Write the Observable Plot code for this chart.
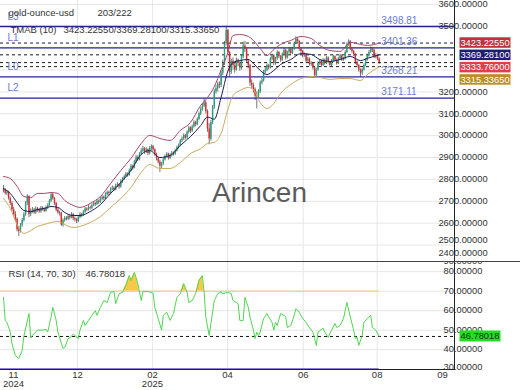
<!DOCTYPE html>
<html><head><meta charset="utf-8">
<script src="https://cdn.jsdelivr.net/npm/d3@7"></script>
<script src="https://cdn.jsdelivr.net/npm/@observablehq/plot@0.6"></script>
<style>
body{margin:0;background:#fff;}
#chart{position:relative;width:520px;height:390px;overflow:hidden;background:#fff;}
#chart svg{position:absolute;left:0;overflow:hidden !important;}
</style></head><body><div id="chart"></div>
<script>
// ---------------- data ----------------
const seriesName = "gold-ounce-usd";
const counterText = "203/222";
const tmabTitle = "TMAB (10)";
const rsiTitle = "RSI (14, 70, 30)";
const watermark = "Arincen";

const opens = [
2755,2748,2736,2742,2712,2690,2660,2640,2618,2570,
2562,2590,2612,2640,2690,2722,2640,2655,2660,2648,
2665,2660,2652,2668,2662,2655,2670,2680,2700,2730,
2712,2690,2660,2648,2645,2592,2612,2622,2618,2630,
2625,2640,2620,2615,2608,2625,2640,2635,2650,2665,
2660,2672,2668,2680,2690,2685,2700,2695,2710,2718,
2712,2730,2740,2735,2755,2760,2752,2770,2775,2765,
2790,2800,2812,2825,2818,2840,2860,2852,2880,2900,
2890,2915,2930,2940,2925,2935,2918,2940,2950,2935,
2915,2895,2880,2860,2870,2890,2905,2915,2895,2910,
2920,2915,2930,2945,2955,2975,2985,3000,2990,3015,
3035,3020,3040,3060,3050,3075,3100,3120,3135,3150,
3110,3030,2985,3060,3130,3200,3215,3235,3230,3285,
3330,3420,3480,3380,3290,3340,3320,3300,3345,3330,
3310,3360,3410,3395,3340,3320,3240,3230,3210,3180,
3180,3200,3240,3250,3290,3300,3320,3310,3350,3365,
3330,3350,3380,3360,3345,3370,3390,3355,3380,3395,
3375,3395,3420,3440,3430,3395,3385,3365,3370,3340,
3350,3325,3330,3310,3275,3300,3330,3340,3320,3345,
3330,3355,3335,3320,3340,3360,3345,3330,3350,3365,
3345,3350,3380,3415,3430,3395,3385,3370,3335,3320,
3300,3285,3300,3320,3345,3365,3380,3395,3390,3360,
3365,3350];
const highs = [
2772,2758,2750,2746,2720,2698,2672,2652,2624,2585,
2598,2622,2648,2698,2730,2726,2665,2672,2668,2675,
2672,2668,2676,2675,2670,2678,2688,2708,2738,2735,
2718,2695,2668,2655,2650,2620,2630,2630,2638,2636,
2648,2645,2628,2622,2632,2648,2646,2658,2672,2670,
2680,2678,2688,2698,2695,2708,2706,2718,2726,2724,
2738,2748,2746,2762,2770,2766,2778,2785,2780,2798,
2808,2820,2832,2830,2848,2868,2866,2888,2910,2908,
2922,2940,2952,2946,2945,2940,2950,2958,2955,2940,
2920,2902,2888,2878,2898,2912,2922,2920,2918,2928,
2926,2938,2952,2962,2982,2994,3008,3006,3022,3042,
3040,3048,3068,3066,3082,3108,3128,3145,3168,3160,
3118,3055,3070,3138,3210,3230,3245,3245,3295,3345,
3430,3500,3485,3385,3350,3355,3330,3355,3350,3338,
3368,3428,3430,3400,3348,3325,3255,3240,3218,3200,
3210,3250,3262,3298,3310,3328,3325,3358,3372,3370,
3358,3388,3385,3366,3378,3398,3395,3386,3402,3400,
3402,3428,3452,3448,3435,3400,3390,3378,3375,3358,
3355,3338,3335,3315,3308,3338,3348,3345,3352,3350,
3362,3360,3340,3348,3368,3365,3350,3358,3372,3370,
3358,3388,3425,3438,3435,3400,3390,3375,3340,3325,
3305,3308,3328,3352,3372,3390,3405,3402,3395,3375,
3370,3356];
const lows = [
2738,2728,2725,2705,2680,2652,2630,2605,2560,2538,
2555,2582,2605,2632,2680,2625,2630,2645,2640,2640,
2650,2645,2645,2655,2648,2650,2662,2675,2695,2705,
2680,2652,2640,2632,2585,2582,2605,2610,2612,2615,
2620,2612,2605,2598,2602,2620,2626,2630,2645,2652,
2655,2660,2662,2675,2676,2680,2686,2690,2702,2704,
2708,2724,2726,2730,2748,2744,2748,2762,2755,2760,
2782,2795,2806,2810,2814,2834,2842,2848,2874,2882,
2885,2908,2922,2915,2918,2908,2912,2932,2926,2905,
2885,2870,2832,2850,2864,2884,2898,2888,2890,2902,
2906,2910,2925,2938,2950,2968,2978,2980,2985,3008,
3010,3015,3034,3040,3045,3068,3092,3112,3128,3100,
3015,2958,2975,3050,3120,3190,3200,3215,3220,3275,
3320,3410,3370,3265,3280,3300,3285,3295,3315,3295,
3300,3352,3380,3330,3305,3225,3215,3195,3160,3122,
3170,3192,3232,3245,3282,3292,3300,3305,3342,3320,
3322,3345,3352,3335,3340,3365,3345,3350,3372,3368,
3370,3390,3415,3418,3385,3375,3355,3358,3332,3335,
3318,3316,3300,3265,3268,3295,3322,3312,3315,3322,
3325,3328,3310,3315,3335,3338,3322,3325,3345,3338,
3340,3345,3375,3408,3388,3375,3360,3325,3310,3290,
3268,3275,3295,3315,3340,3358,3375,3380,3352,3352,
3342,3325];
const closes = [
2748,2736,2742,2712,2690,2660,2640,2618,2570,2562,
2590,2612,2640,2690,2722,2640,2655,2660,2648,2665,
2660,2652,2668,2662,2655,2670,2680,2700,2730,2712,
2690,2660,2648,2645,2592,2612,2622,2618,2630,2625,
2640,2620,2615,2608,2625,2640,2635,2650,2665,2660,
2672,2668,2680,2690,2685,2700,2695,2710,2718,2712,
2730,2740,2735,2755,2760,2752,2770,2775,2765,2790,
2800,2812,2825,2818,2840,2860,2852,2880,2900,2890,
2915,2930,2940,2925,2935,2918,2940,2950,2935,2915,
2895,2880,2860,2870,2890,2905,2915,2895,2910,2920,
2915,2930,2945,2955,2975,2985,3000,2990,3015,3035,
3020,3040,3060,3050,3075,3100,3120,3135,3150,3110,
3030,2985,3060,3130,3200,3215,3235,3230,3285,3330,
3420,3480,3380,3290,3340,3320,3300,3345,3330,3310,
3360,3410,3395,3340,3320,3240,3230,3210,3180,3180,
3200,3240,3250,3290,3300,3320,3310,3350,3365,3330,
3350,3380,3360,3345,3370,3390,3355,3380,3395,3375,
3395,3420,3440,3430,3395,3385,3365,3370,3340,3350,
3325,3330,3310,3275,3300,3330,3340,3320,3345,3330,
3355,3335,3320,3340,3360,3345,3330,3350,3365,3345,
3350,3380,3415,3430,3395,3385,3370,3335,3320,3300,
3285,3300,3320,3345,3365,3380,3395,3390,3360,3365,
3350,3333.76];

// TMA bands (read at sampled bars)
const bandBar = [0,4,8,12,16,20,24,28,32,36,
  41,45,51,57,63,69,75,81,86,92,
  98,104,110,116,120,124,128,132,135,139,
  144,147,151,155,159,163,169,175,181,186,
  192,198,204,210,214,221];
const tmabUpper = [2813,2804,2768,2722,2717,2736,2736,2740,2736,2704,
  2681,2672,2690,2722,2781,2841,2896,2964,3001,2987,
  2978,3024,3060,3138,3174,3224,3300,3380,3458,3462,
  3453,3435,3398,3366,3394,3417,3435,3453,3444,3412,
  3389,3385,3426,3417,3412,3423.2255];
const tmabMiddle = [2758,2736,2694,2658,2653,2662,2667,2676,2672,2649,
  2635,2635,2653,2685,2736,2786,2841,2914,2932,2900,
  2909,2955,2996,3046,3085,3075,3175,3295,3334,3343,
  3348,3330,3298,3279,3298,3325,3348,3375,3371,3348,
  3339,3348,3362,3343,3353,3369.281];
const tmabLower = [2713,2667,2594,2553,2566,2585,2594,2603,2608,2594,
  2580,2585,2603,2630,2672,2713,2763,2832,2868,2850,
  2850,2877,2918,2941,2964,2969,3010,3120,3183,3206,
  3220,3211,3151,3124,3147,3193,3234,3261,3270,3266,
  3257,3261,3261,3252,3279,3315.3365];

const levelNames = ["L3", "L1", "L0", "L2"];
const levelValues = [3498.81, 3401.36, 3268.21, 3171.11];

// RSI (read at sampled bars)
const rsiBar = [0,1,2,4,5,7,9,11,12,15,
  16,17,20,23,25,26,28,29,31,32,
  35,36,38,39,41,44,45,47,48,50,
  52,54,55,57,59,61,63,65,66,68,
  70,72,74,75,77,78,79,81,82,85,
  86,88,89,91,93,94,96,98,100,102,
  104,106,108,109,111,113,115,117,118,119,
  121,122,124,126,128,129,132,134,135,138,
  139,141,142,144,145,147,148,149,150,151,
  153,155,156,158,159,160,161,163,165,166,
  167,169,171,172,174,176,178,179,182,183,
  184,185,188,189,191,193,195,196,198,200,
  201,202,204,206,207,208,209,211,212,214,
  216,217,219,221];
const rsiValue = [66.8,55,54,49,43,37,35.5,39.6,47,58.5,
  46,47.3,50,50,50.5,49,56.8,61.7,55,49,
  40.6,41,45.7,46,48,45.7,50,55,52.4,55,
  57.6,60,57.6,61.7,65.2,64.2,69.4,69.8,63.6,68.7,
  69.4,73,78,75.5,79.6,77,73.9,65.2,69.8,69.8,
  69.5,69,61.7,56,50,57.6,59.2,55,58.5,66.8,
  68.7,73.9,69.4,64.2,65.2,68.7,75.5,78,69.4,56.8,
  47.3,53.4,65.2,68.7,69.6,68.7,69.4,68.7,65.2,63.6,
  55,55,66.8,61.7,56.8,50,45.7,49,47.3,49,
  56,58.5,56.8,54,50,54,52.4,58.5,57.6,56.8,
  51.4,52.4,57.6,61,59.2,56,54,52.4,49,45.7,
  42.2,49,51,49,46.3,50,53.4,51.4,52.4,56,
  60,64.2,56.8,50,45.7,46.3,42.2,47.3,54,56,
  57.6,51.4,50,46.78018];
const rsiOverbought = 70;
const rsiOversold = 30;

const priceTicks = [3600,3500,3400,3300,3200,3100,3000,2900,2800,2700,2600,2500,2400];
const rsiTicks = [90,80,70,60,50,40,30];
const monthTickBar = [5.9, 43.5, 87.6, 131.8, 176.3, 219.8, 258.2];
const monthTickLabel = ["11\n2024", "12", "02\n2025", "04", "06", "08", "09"];
const monthGridBar = [43.5, 87.6, 131.8, 176.3, 219.8];

// ---------------- chart ----------------
const FONT = '"Liberation Sans", Arial, sans-serif';
const fmt5 = d3.format(".5f");
const lastBar = closes.length - 1;
const xDomain = [-1.765, 265.3];
const up = "#1fa57e", down = "#e5262e";
const levelBlue = "#25258c", levelText = "#6b7bd0";

const bars = closes.map((c, i) => ({i, o: opens[i], h: highs[i], l: lows[i], c}));
const bands = bandBar.map((b, k) => ({b, u: tmabUpper[k], m: tmabMiddle[k], lo: tmabLower[k]}));
const levels = levelNames.map((n, k) => ({n, v: levelValues[k]}));
const lastUpper = tmabUpper.at(-1), lastMid = tmabMiddle.at(-1), lastLower = tmabLower.at(-1), lastClose = closes.at(-1);
const tmabText = [lastUpper, lastMid, lastLower].map(fmt5).join("/");

const baseStyle = {fontFamily: FONT, fontSize: "9.5px", color: "#333", background: "transparent"};

const pricePlot = Plot.plot({
  width: 520, height: 261, marginTop: 0, marginRight: 66, marginBottom: 0, marginLeft: 0,
  style: baseStyle,
  x: {domain: xDomain, axis: null},
  y: {domain: [2424.8, 3617.6], axis: null},
  marks: [
    Plot.ruleY(priceTicks.filter(t => t > 2424.8), {stroke: "#e6e6e6"}),
    Plot.ruleX(monthGridBar, {stroke: "#e6e6e6"}),
    Plot.text([watermark], {frameAnchor: "top-left", dx: 259, dy: 193, textAnchor: "middle", lineAnchor: "middle", fontSize: 28, fill: "#5c5c5c"}),
    Plot.ruleY(levels, {y: "v", stroke: levelBlue, strokeWidth: 1.3}),
    Plot.ruleY([lastUpper, lastMid, lastClose, lastLower], {stroke: "#1a1a1a", strokeDasharray: "3,3"}),
    Plot.ruleX(bars, {x: "i", y1: "l", y2: "h", stroke: "#3a3a3a", strokeWidth: 0.7}),
    Plot.ruleX(bars, {x: "i", y1: "o", y2: "c", stroke: d => d.c >= d.o ? up : down, strokeWidth: 1.4}),
    Plot.line(bands, {x: "b", y: "u", stroke: "#a4456a", strokeWidth: 1, curve: "monotone-x"}),
    Plot.line(bands, {x: "b", y: "m", stroke: "#1c1c55", strokeWidth: 1, curve: "monotone-x"}),
    Plot.line(bands, {x: "b", y: "lo", stroke: "#c9a95c", strokeWidth: 1, curve: "monotone-x"}),
    Plot.text(levels, {y: "v", text: "n", frameAnchor: "left", dx: 7, dy: -10, textAnchor: "start", fill: levelText, fontSize: 10}),
    Plot.text(levels, {y: "v", x: () => lastBar, text: d => d.v.toFixed(2), dx: 2, dy: -6, textAnchor: "start", fill: levelText, fontSize: 10}),
    Plot.text([seriesName], {frameAnchor: "top-left", dx: 8, dy: 12.5, textAnchor: "start", lineAnchor: "middle", fill: "#333"}),
    Plot.text([counterText], {frameAnchor: "top-left", dx: 97, dy: 12.5, textAnchor: "start", lineAnchor: "middle", fill: "#333"}),
    Plot.text([tmabTitle], {frameAnchor: "top-left", dx: 10, dy: 29.5, textAnchor: "start", lineAnchor: "middle", fill: "#333"}),
    Plot.text([tmabText], {frameAnchor: "top-left", dx: 63, dy: 29.5, textAnchor: "start", lineAnchor: "middle", fill: "#333"}),
    Plot.frame({anchor: "right", stroke: "#222"})
  ]
});

// RSI fill points (add crossing points of the 70 line)
const rsiPts = rsiBar.map((b, k) => ({b, v: rsiValue[k]}));
const fillPts = [];
rsiPts.forEach((p, k) => {
  if (k > 0) {
    const q = rsiPts[k - 1];
    if ((q.v - rsiOverbought) * (p.v - rsiOverbought) < 0) {
      const t = (rsiOverbought - q.v) / (p.v - q.v);
      fillPts.push({b: q.b + t * (p.b - q.b), v: rsiOverbought});
    }
  }
  fillPts.push({b: p.b, v: Math.max(p.v, rsiOverbought)});
});
const rsiLast = rsiValue.at(-1);
const labelMap = new Map(monthTickBar.map((b, k) => [b, monthTickLabel[k]]));

const rsiPlot = Plot.plot({
  width: 520, height: 129, marginTop: 0, marginRight: 66, marginBottom: 21, marginLeft: 0,
  style: baseStyle,
  x: {domain: xDomain, axis: null, label: null},
  y: {domain: [29.85, 85.2], axis: null},
  marks: [
    Plot.ruleY(rsiTicks.filter(t => t > 30 && t < 85), {stroke: "#e6e6e6"}),
    Plot.ruleX(monthGridBar, {stroke: "#e6e6e6"}),
    Plot.areaY(fillPts, {x: "b", y1: () => rsiOverbought, y2: "v", fill: "#f7c948"}),
    Plot.ruleY([rsiOverbought], {x1: () => xDomain[0], x2: () => lastBar, stroke: "#f2d48c", strokeWidth: 1.5}),
    Plot.ruleY([rsiOversold], {x1: () => xDomain[0], x2: () => lastBar, stroke: "#6a55c8", strokeWidth: 1.8}),
    Plot.ruleY([rsiLast], {stroke: "#111", strokeDasharray: "3,3"}),
    Plot.line(rsiPts, {x: "b", y: "v", stroke: "#4fd64f", strokeWidth: 1}),
    Plot.axisX(monthTickBar, {anchor: "bottom", label: null, tickSize: 0, tickPadding: 1.5, tickFormat: d => labelMap.get(d), fontSize: 9.5, lineHeight: 1, fill: "#333"}),
    Plot.text([rsiTitle], {frameAnchor: "top-left", dx: 8, dy: 12, textAnchor: "start", lineAnchor: "middle", fill: "#333"}),
    Plot.text([rsiLast], {text: d => fmt5(d), frameAnchor: "top-left", dx: 85, dy: 12, textAnchor: "start", lineAnchor: "middle", fill: "#333"}),
    Plot.frame({anchor: "right", stroke: "#222"}),
    Plot.frame({anchor: "bottom", stroke: "#222"})
  ]
});

function valueBoxes(svg, yScale, items, x, w, h, gap) {
  const g = d3.select(svg).append("g").attr("font-family", FONT).attr("font-size", 9.3);
  let prev = -Infinity;
  const spans = [];
  items.slice().sort((a, b) => b.v - a.v).forEach(d => {
    const y = Math.max(yScale.apply(d.v), prev + h + gap);
    prev = y;
    spans.push([y - h / 2, y + h / 2]);
    g.append("rect").attr("x", x).attr("y", y - h / 2).attr("width", w).attr("height", h).attr("fill", d.bg);
    g.append("text").attr("x", x + w / 2).attr("y", y).attr("dy", "0.35em").attr("text-anchor", "middle").attr("fill", d.fg).text(fmt5(d.v));
  });
  return spans;
}
function rightLabels(svg, yScale, ticks, minY, maxY, hidden) {
  const g = d3.select(svg).insert("g", "g:last-of-type").attr("font-family", FONT).attr("font-size", 9.3).attr("fill", "#333");
  let prev = Infinity;
  ticks.slice().sort((a, b) => a - b).forEach(v => {
    let y = Math.min(yScale.apply(v), maxY, prev - 13);
    y = Math.max(y, minY);
    prev = y;
    // labels fully covered by the value boxes are not shown (as in the reference)
    if (hidden.some(([a, b]) => y > a - 1 && y < b + 1)) return;
    g.append("text").attr("x", 463).attr("y", y).attr("dy", "0.35em").text(fmt5(v));
  });
}

const priceSpans = valueBoxes(pricePlot, pricePlot.scale("y"), [
  {v: lastUpper, bg: "#bb343c", fg: "#fff"},
  {v: lastMid, bg: "#1e1e6e", fg: "#fff"},
  {v: lastClose, bg: "#e43c4a", fg: "#fff"},
  {v: lastLower, bg: "#b88f2a", fg: "#fff"}
], 459.5, 51, 10.5, 1.8);
rightLabels(pricePlot, pricePlot.scale("y"), priceTicks, 0, 253, priceSpans);

const rsiSpans = valueBoxes(rsiPlot, rsiPlot.scale("y"), [{v: rsiLast, bg: "#22dd22", fg: "#113311"}], 459.5, 41, 11, 0);
rightLabels(rsiPlot, rsiPlot.scale("y"), rsiTicks, 0, 105.7, []);
d3.select(rsiPlot).append("line").attr("x1", 0).attr("x2", 520).attr("y1", 0.5).attr("y2", 0.5).attr("stroke", "#444").attr("stroke-width", 1.2);

const chart = document.getElementById("chart");
pricePlot.style.top = "0px";
rsiPlot.style.top = "261px";
chart.appendChild(pricePlot);
chart.appendChild(rsiPlot);
</script></body></html>
